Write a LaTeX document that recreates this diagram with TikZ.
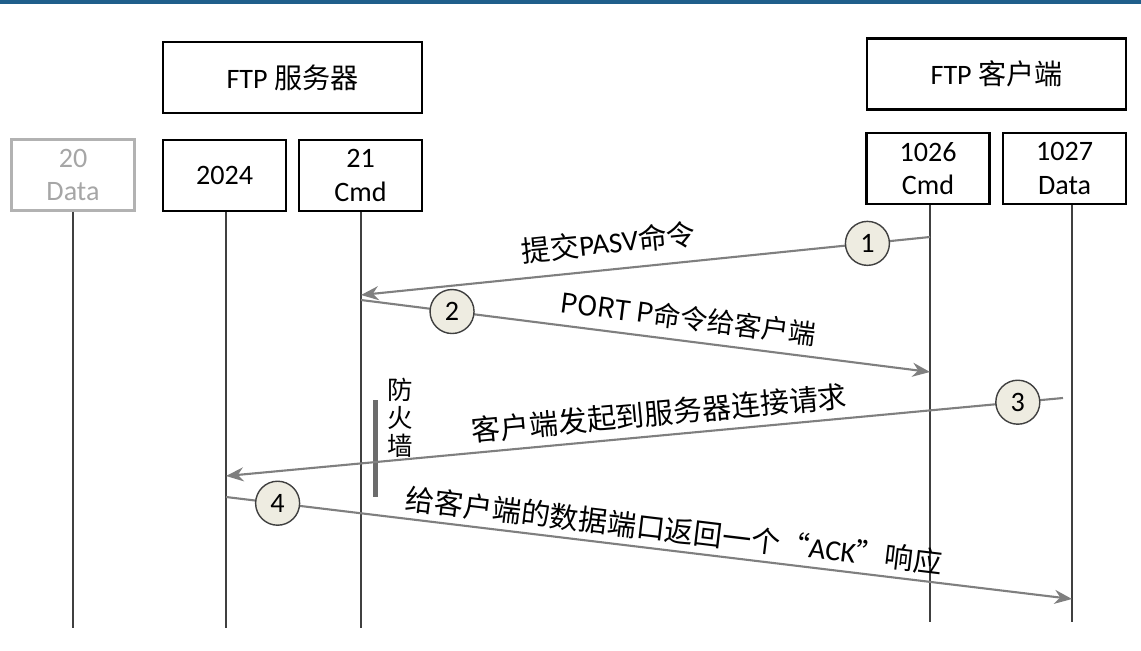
\documentclass[tikz,border=0pt]{standalone}
\usepackage{fontspec}
\setmainfont{Carlito}
\newfontfamily\cjk{Noto Sans CJK SC}
\usepackage{tikz}
\usetikzlibrary{calc}
\usetikzlibrary{arrows.meta}
\definecolor{arrowgray}{HTML}{7F7F7F}
\definecolor{linegray}{HTML}{404040}
\definecolor{stepfill}{HTML}{EEECE1}
\definecolor{topblue}{HTML}{1F5F8B}
\tikzset{
  hostbox/.style={draw,line width=1.3pt,minimum width=5.18cm,minimum height=1.42cm,font=\fontsize{16}{18}\selectfont},
  portbox/.style={draw,line width=1.3pt,minimum width=2.46cm,minimum height=1.42cm,align=center,font=\fontsize{16}{19}\selectfont},
  msg/.style={draw=arrowgray,line width=1.2pt,-{Stealth[length=10pt,width=8pt]}},
  stepnum/.style={circle,draw=linegray,line width=0.8pt,fill=stepfill,minimum size=0.88cm,inner sep=0pt,font=\fontsize{16}{18}\selectfont},
  msglabel/.style={sloped,above,font=\fontsize{16.5}{19}\selectfont}
}
\newcommand{\lifeline}[3]{\coordinate (#1end) at (#2,#3); \draw[linegray,line width=0.9pt] (#1end |- #1.south) -- (#1end);}

\begin{document}
\begin{tikzpicture}[x=0.02cm,y=-0.02cm]
        \useasboundingbox (0,0) rectangle (1141,651);
        % top rule
        \fill[topblue] (0,0) rectangle (1141,4);

        % hosts
        \node[hostbox] (server) at (292.5,77.5) {FTP {\cjk 服务器}};
        \node[hostbox] (client) at (996.5,74) {FTP {\cjk 客户端}};

        % ports
        \node[portbox,draw=gray!60,text=gray!70] (p20) at (73,175) {20\\Data};
        \node[portbox] (p2024) at (224.5,175.5) {2024};
        \node[portbox] (p21) at (360.5,175.5) {21\\Cmd};
        \node[portbox] (p1026) at (928,168.5) {1026\\Cmd};
        \node[portbox] (p1027) at (1064.5,168.5) {1027\\Data};

        % lifelines
        \lifeline{p20}{73}{628}
        \lifeline{p2024}{226}{628}
        \lifeline{p21}{361}{628}
        \lifeline{p1026}{930}{622}
        \lifeline{p1027}{1072}{622}

        % firewall
        \fill[gray!85!black] (373,400) rectangle (378,497);
        \node[font=\cjk\fontsize{14.5}{16}\selectfont,align=center] (wall) at (400,418) {防\\火\\墙};

        % messages
        \coordinate (m1s) at (930,237);
        \coordinate (m1e) at (361,295);
        \coordinate (m2s) at (361,300);
        \coordinate (m2e) at (930,372);
        \coordinate (m3s) at (1063,398);
        \coordinate (m3e) at (226,476);
        \coordinate (m4s) at (226,497);
        \coordinate (m4e) at (1072,599);

        \draw[msg] (m1s) -- (m1e)
          node[msglabel,pos=0.56,yshift=4pt] (t1) {{\cjk 提交}PASV{\cjk 命令}}
          node[stepnum,pos=0.11] (s1) {1};
        \draw[msg] (m2s) -- (m2e)
          node[msglabel,pos=0.57,yshift=2pt,font=\cjk\fontsize{15.5}{18}\selectfont] (t2) {PORT P命令给客户端}
          node[stepnum,pos=0.16] (s2) {2};
        \draw[msg] (m3s) -- (m3e)
          node[msglabel,pos=0.48,yshift=1pt] (t3) {\cjk 客户端发起到服务器连接请求}
          node[stepnum,pos=0.054] (s3) {3};
        \draw[msg] (m4s) -- (m4e)
          node[msglabel,pos=0.527,yshift=0pt] (t4) {{\cjk 给客户端的数据端口返回一个“}ACK{\cjk ”响应}}
          node[stepnum,pos=0.061] (s4) {4};
    \end{tikzpicture}
\end{document}
